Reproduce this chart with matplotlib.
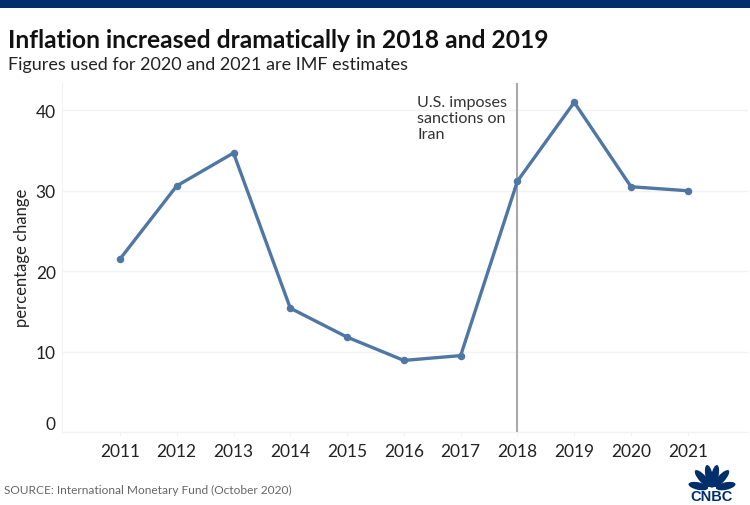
import matplotlib
matplotlib.use("Agg")
import matplotlib.pyplot as plt
import numpy as np
from matplotlib.patches import Ellipse, Rectangle
from matplotlib.transforms import ScaledTranslation

years = [2011, 2012, 2013, 2014, 2015, 2016, 2017, 2018, 2019, 2020, 2021]
inflation = [21.5, 30.6, 34.7, 15.4, 11.8, 8.9, 9.5, 31.2, 41.0, 30.5, 30.0]
y_ticks = [0, 10, 20, 30, 40]
sanction_year = 2018

W, H = 750, 506
NAVY = "#002f6c"
plt.rcParams["font.family"] = ["Lato", "DejaVu Sans"]

fig = plt.figure(figsize=(7.5, 5.06), dpi=100)
ax = fig.add_axes([62 / W, 1 - 433 / H, (748 - 62) / W, (433 - 84) / H])

ax.plot(years, inflation, color="#4f77a3", lw=2.4, marker="o", ms=4.4, zorder=3)
ax.axvline(sanction_year, color="#a9a9a9", lw=1.5, zorder=2)

ax.set_xlim(2009.98, 2022.06)
ax.set_ylim(0, 43.4)
ax.set_xticks(years)
ax.set_yticks(y_ticks)
ax.grid(axis="y", color="#f2f2f2", lw=1)
ax.set_axisbelow(True)
for side in ["top", "right"]:
    ax.spines[side].set_visible(False)
for side in ["left", "bottom"]:
    ax.spines[side].set_color("#f2f2f2")
ax.tick_params(axis="x", length=3, color="#f2f2f2", labelsize=12.5, labelcolor="#222222", pad=5)
ax.tick_params(axis="y", length=0, labelsize=12.5, labelcolor="#222222", pad=4.5)
ax.set_ylabel("percentage change", fontsize=12, color="#222222")
ax.yaxis.set_label_coords((30 - 62) / (748 - 62), 0.503)

# the 0 label sits above the baseline in the original
zero_label = ax.get_yticklabels()[0]
zero_label.set_transform(zero_label.get_transform() + ScaledTranslation(0, 9 / 100, fig.dpi_scale_trans))

ax.annotate("U.S. imposes\nsanctions on\nIran", xy=(417 / W, 1 - 96 / H), xycoords="figure fraction",
            fontsize=11.6, color="#333333", va="top", ha="left", linespacing=1.2)

# header band and titles
fig.add_artist(Rectangle((0, 1 - 9 / H), 1, 9 / H, transform=fig.transFigure, color=NAVY, lw=0))
fig.text(8 / W, 1 - 41 / H, "Inflation increased dramatically in 2018 and 2019", fontsize=17.7,
         fontweight="bold", color="#111111", va="center", ha="left")
fig.text(8 / W, 1 - 65 / H, "Figures used for 2020 and 2021 are IMF estimates", fontsize=13,
         color="#222222", va="center", ha="left")
fig.text(4 / W, 1 - 490 / H, "SOURCE: International Monetary Fund (October 2020)", fontsize=8.6,
         color="#666666", va="center", ha="left")

# CNBC logo
logo = fig.add_axes([0, 0, 1, 1], facecolor="none")
logo.set_xlim(0, W)
logo.set_ylim(H, 0)
logo.axis("off")
for ang, dist, length, width in [(-78, 14, 20, 7.5), (-42, 14, 22, 7.5), (-12, 13, 23, 7.5),
                                 (12, 13, 23, 7.5), (42, 14, 22, 7.5), (78, 14, 20, 7.5)]:
    cx = 712 + dist * np.sin(np.radians(ang))
    cy = 490 - dist * np.cos(np.radians(ang))
    logo.add_patch(Ellipse((cx, cy), width, length, angle=ang, color=NAVY, lw=0))
logo.add_patch(Rectangle((684, 492), 56, 10, color="white", lw=0))
logo.text(712, 497, "CNBC", fontsize=10.5, fontweight="bold", family="Liberation Sans", color=NAVY,
          ha="center", va="center")

fig.savefig("out.png", dpi=100)
